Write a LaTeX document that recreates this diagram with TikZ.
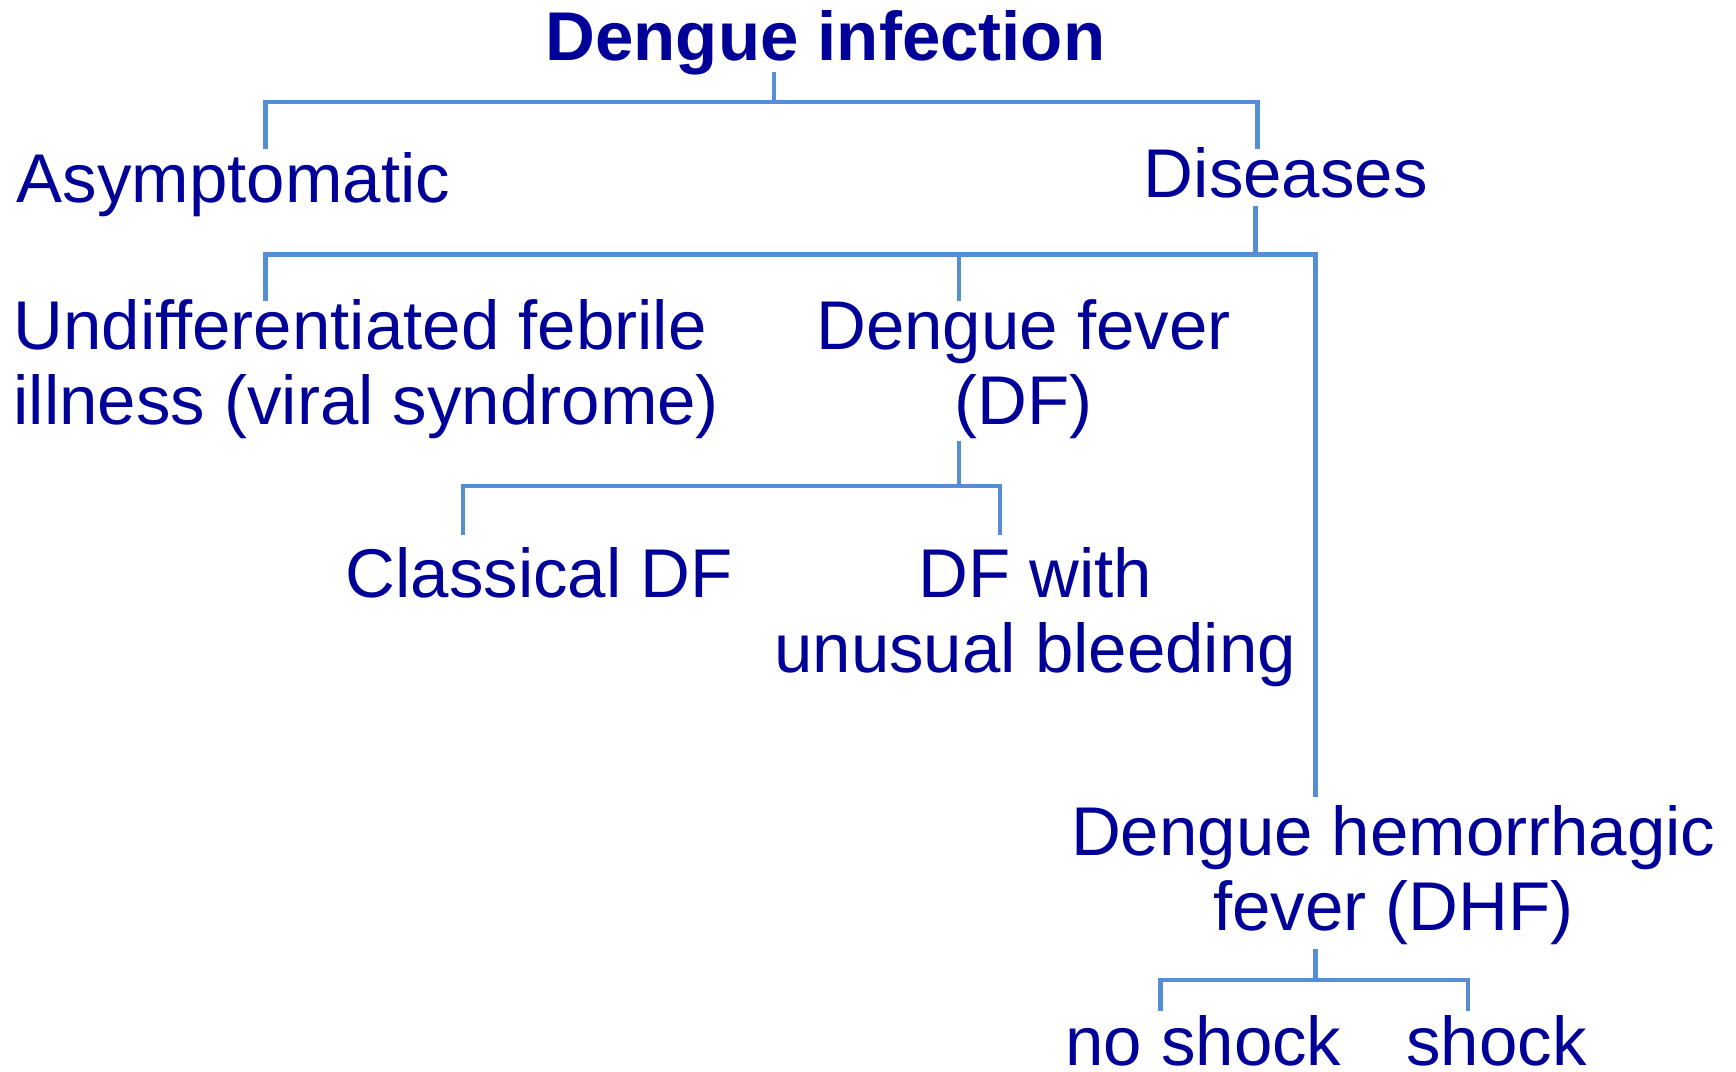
\documentclass[tikz,border=0pt]{standalone}
\usepackage{fontspec}
\setmainfont{Liberation Sans}
\definecolor{txt}{HTML}{000099}
\definecolor{ln}{HTML}{558ED5}
\begin{document}
\begin{tikzpicture}[x=1.107pt,y=-1.107pt,
  lbl/.style={text=txt,inner sep=0pt,font=\fontsize{69}{75}\selectfont},
  link/.style={draw=ln,line width=4.5pt}]
\useasboundingbox (0,0) rectangle (1568,968);
% labels
\node[lbl,font=\fontsize{69}{75}\selectfont\bfseries,anchor=base] (root) at (745.5,55) {Dengue infection};
\node[lbl,anchor=base west] (asym) at (15,183) {Asymptomatic};
\node[lbl,anchor=base west] (dis) at (1033,178) {Diseases};
\node[lbl,anchor=base west,align=left] (udf) at (12,383) {Undifferentiated febrile\\illness (viral syndrome)};
\node[lbl,anchor=base,align=center] (df) at (924.5,383) {Dengue fever\\(DF)};
\node[lbl,anchor=base west] (cdf) at (312,540) {Classical DF};
\node[lbl,anchor=base,align=center] (dfw) at (935,607) {DF with\\unusual bleeding};
\node[lbl,anchor=base,align=center] (dhf) at (1258.5,840) {Dengue hemorrhagic\\fever (DHF)};
\node[lbl,anchor=base west] (nos) at (962,962) {no shock};
\node[lbl,anchor=base west] (sho) at (1270,962) {shock};
% junction coordinates
\coordinate (r0) at (699,65);
\coordinate (r1) at (699,92);
\coordinate (a0) at (240,135);
\coordinate (d0) at (1136,135);
\coordinate (s0) at (1134,186);
\coordinate (s1) at (1134,230);
\coordinate (u0) at (240,272);
\coordinate (f0) at (866,272);
\coordinate (h0) at (1188,720);
\coordinate (f1) at (866,398);
\coordinate (f2) at (866,439);
\coordinate (c0) at (418,483);
\coordinate (w0) at (903,483);
\coordinate (h1) at (1188,857);
\coordinate (h2) at (1188,885);
\coordinate (n0) at (1048,913);
\coordinate (k0) at (1326,913);
% connectors
\draw[link] (r0) -- (r1);
\draw[link] (a0) |- (r1) -| (d0);
\draw[link] (s0) -- (s1);
\draw[link] (u0) |- (s1) -| (h0);
\draw[link] (f0) -- (f0 |- s1);
\draw[link] (f1) -- (f2);
\draw[link] (c0) |- (f2) -| (w0);
\draw[link] (h1) -- (h2);
\draw[link] (n0) |- (h2) -| (k0);
\end{tikzpicture}
\end{document}
